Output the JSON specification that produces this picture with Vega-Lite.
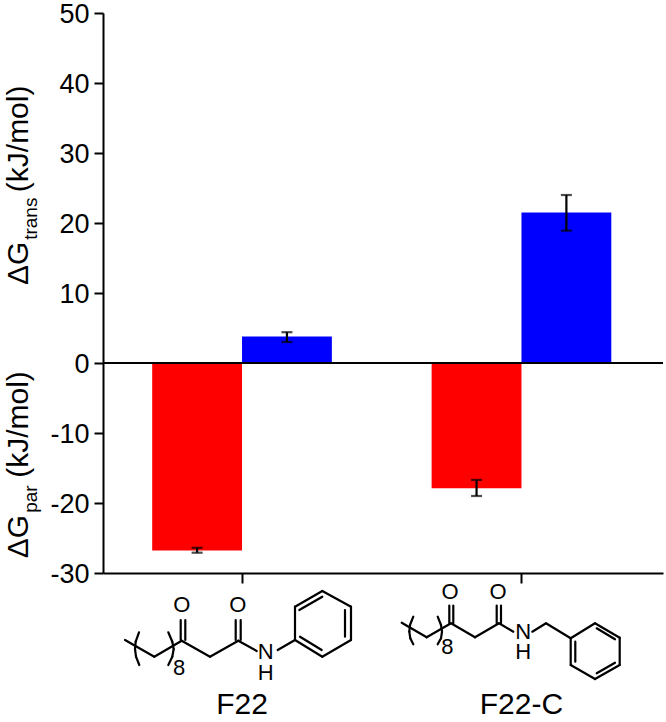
{
"$schema":"https://vega.github.io/schema/vega-lite/v6.json",
"width":560,"height":560,
"autosize":{"type":"none"},
"padding":{"left":103,"top":13,"right":3,"bottom":149},
"background":"white",
"config":{"view":{"stroke":null},"font":"Liberation Sans"},
"datasets":{
"bars":[
{"compound":"F22","term":"par","value":-26.8,"lo":-27.1,"hi":-26.4},
{"compound":"F22","term":"trans","value":3.8,"lo":3.0,"hi":4.4},
{"compound":"F22-C","term":"par","value":-17.9,"lo":-19.0,"hi":-16.7},
{"compound":"F22-C","term":"trans","value":21.5,"lo":18.9,"hi":24.0}
],
"bonds":[
{"a":125,"b":640,"c":154.3,"d":656.7},{"a":154.3,"b":656.7,"c":181.7,"d":640.7},{"a":181.7,"b":640.7,"c":210,"d":656.7},{"a":210,"b":656.7,"c":238.3,"d":640.7},{"a":238.3,"b":640.7,"c":256.7,"d":651},{"a":277.7,"b":650,"c":295,"d":640},
{"a":295,"b":640,"c":295,"d":606.7},{"a":295,"b":606.7,"c":322.3,"d":591},{"a":322.3,"b":591,"c":351,"d":606.7},{"a":351,"b":606.7,"c":351,"d":640},{"a":351,"b":640,"c":322.3,"d":656.7},{"a":322.3,"b":656.7,"c":295,"d":640},
{"a":299.3,"b":610,"c":322.3,"d":596.7},{"a":345,"b":610,"c":345,"d":636.7},{"a":300,"b":636.7,"c":321.7,"d":650},
{"a":180.7,"b":640,"c":180.7,"d":620},{"a":185.3,"b":640,"c":185.3,"d":620},{"a":235.7,"b":640,"c":235.7,"d":620},{"a":240.7,"b":640,"c":240.7,"d":620},
{"a":139,"b":632.3,"c":135.7,"d":641.7},{"a":135.7,"b":641.7,"c":135,"d":649},{"a":135,"b":649,"c":136,"d":656.7},{"a":136,"b":656.7,"c":139.3,"d":665},
{"a":168.3,"b":632.3,"c":172.3,"d":641.7},{"a":172.3,"b":641.7,"c":173.7,"d":649},{"a":173.7,"b":649,"c":172.3,"d":656.7},{"a":172.3,"b":656.7,"c":168.3,"d":665},
{"a":401.7,"b":622.7,"c":426.7,"d":637.3},{"a":426.7,"b":637.3,"c":451,"d":623.3},{"a":451,"b":623.3,"c":475,"d":637.3},{"a":475,"b":637.3,"c":499,"d":623.3},{"a":499,"b":623.3,"c":513.3,"d":631.7},{"a":532.3,"b":631.7,"c":546,"d":623.3},{"a":546,"b":623.3,"c":570.7,"d":638.3},
{"a":570.7,"b":638.3,"c":595,"d":623.3},{"a":595,"b":623.3,"c":619.7,"d":637.7},{"a":619.7,"b":637.7,"c":619.7,"d":665},{"a":619.7,"b":665,"c":595,"d":679},{"a":595,"b":679,"c":570.7,"d":665},{"a":570.7,"b":665,"c":570.7,"d":638.3},
{"a":596.7,"b":628.3,"c":615,"d":639.3},{"a":575.3,"b":641.7,"c":575.3,"d":661.7},{"a":596.7,"b":673.3,"c":615,"d":662.7},
{"a":449.3,"b":623.3,"c":449.3,"d":605.7},{"a":453.3,"b":623.3,"c":453.3,"d":605.7},{"a":496.7,"b":623.3,"c":496.7,"d":605.7},{"a":501,"b":623.3,"c":501,"d":605.7},
{"a":413.3,"b":616.7,"c":410,"d":625},{"a":410,"b":625,"c":409.3,"d":631.7},{"a":409.3,"b":631.7,"c":410.3,"d":638.3},{"a":410.3,"b":638.3,"c":413.3,"d":644.3},
{"a":437.7,"b":616.7,"c":441,"d":625},{"a":441,"b":625,"c":442,"d":631.7},{"a":442,"b":631.7,"c":441,"d":638.3},{"a":441,"b":638.3,"c":437.7,"d":644.3}
],
"atoms":[
{"t":"O","a":181.7,"b":605},{"t":"O","a":237.7,"b":605},{"t":"N","a":265.7,"b":652},{"t":"H","a":265.7,"b":673},{"t":"8","a":179,"b":668.3},
{"t":"O","a":450,"b":592},{"t":"O","a":498,"b":592},{"t":"N","a":523.3,"b":632},{"t":"H","a":523.3,"b":652},{"t":"8","a":447.3,"b":646.7}
],
"titleMain":[{"t":"ΔG","at":11.14},{"t":"(kJ/mol)","at":24.4},{"t":"ΔG","at":-27.9},{"t":"(kJ/mol)","at":-16.4}],
"titleSub":[{"t":"trans","at":17.6},{"t":"par","at":-21.4}]
},
"layer":[
{"layer":[
{"data":{"name":"bars"},"mark":{"type":"bar","clip":false},
"encoding":{
"x":{"field":"compound","type":"nominal","sort":null,"title":null,
"scale":{"paddingInner":0.357,"paddingOuter":0.1805,"align":0.4876},
"axis":{"labelAngle":0,"labelFontSize":30,"labelColor":"black","labelPadding":106,"tickSize":10,"tickWidth":2,"tickColor":"black","domainWidth":2,"domainColor":"black","labelFont":"Liberation Sans"}},
"xOffset":{"field":"term","type":"nominal","sort":["par","trans"],"scale":{"paddingInner":0,"paddingOuter":0}},
"y":{"field":"value","type":"quantitative","title":null,
"scale":{"domain":[-30,50],"nice":false,"zero":false},
"axis":{"values":[-30,-25,-20,-15,-10,-5,0,5,10,15,20,25,30,35,40,45,50],
"labelExpr":"datum.value % 10 === 0 ? toString(datum.value) : ''","labelFontSize":27,"labelColor":"black","labelPadding":5,"labelFont":"Liberation Sans","labelOffset":1,
"tickSize":{"condition":{"test":"datum.value % 10 === 0","value":9},"value":5},
"tickWidth":2,"tickColor":"black","domainWidth":2,"domainColor":"black","grid":false,"labelOverlap":false}},
"color":{"field":"term","type":"nominal","legend":null,"scale":{"domain":["par","trans"],"range":["#ff0000","#0000ff"]}}
}},
{"data":{"values":[{"zero":0}]},"mark":{"type":"rule","color":"black","strokeWidth":2},"encoding":{"y":{"field":"zero","type":"quantitative"}}},
{"data":{"name":"bars"},"mark":{"type":"rule","color":"black","strokeWidth":2.2},
"encoding":{"x":{"field":"compound","type":"nominal","sort":null},"xOffset":{"field":"term","type":"nominal","sort":["par","trans"]},"y":{"field":"lo","type":"quantitative"},"y2":{"field":"hi"}}},
{"data":{"name":"bars"},"mark":{"type":"tick","color":"black","size":11,"thickness":2.2},
"encoding":{"x":{"field":"compound","type":"nominal","sort":null},"xOffset":{"field":"term","type":"nominal","sort":["par","trans"]},"y":{"field":"lo","type":"quantitative"}}},
{"data":{"name":"bars"},"mark":{"type":"tick","color":"black","size":11,"thickness":2.2},
"encoding":{"x":{"field":"compound","type":"nominal","sort":null},"xOffset":{"field":"term","type":"nominal","sort":["par","trans"]},"y":{"field":"hi","type":"quantitative"}}},
{"data":{"name":"titleMain"},"mark":{"type":"text","angle":270,"align":"left","baseline":"alphabetic","fontSize":30,"color":"black","font":"Liberation Sans"},
"encoding":{"x":{"value":-75},"y":{"field":"at","type":"quantitative"},"text":{"field":"t"}}},
{"data":{"name":"titleSub"},"mark":{"type":"text","angle":270,"align":"left","baseline":"alphabetic","fontSize":19,"color":"black","font":"Liberation Sans"},
"encoding":{"x":{"value":-66},"y":{"field":"at","type":"quantitative"},"text":{"field":"t"}}}
]},
{"layer":[
{"data":{"name":"bonds"},"mark":{"type":"rule","color":"black","strokeWidth":2.2,"strokeCap":"round"},
"encoding":{
"x":{"field":"a","type":"quantitative","axis":null,"scale":{"domain":[103,663],"range":[0,560],"nice":false,"zero":false}},
"y":{"field":"b","type":"quantitative","axis":null,"scale":{"domain":[573,722],"range":[560,709],"nice":false,"zero":false}},
"x2":{"field":"c"},"y2":{"field":"d"}}},
{"data":{"name":"atoms"},"mark":{"type":"text","fontSize":22,"color":"black","font":"Liberation Sans","baseline":"middle","align":"center"},
"encoding":{
"x":{"field":"a","type":"quantitative"},
"y":{"field":"b","type":"quantitative"},
"text":{"field":"t"}}}
]}
],
"resolve":{"scale":{"x":"independent","y":"independent"}}
}
